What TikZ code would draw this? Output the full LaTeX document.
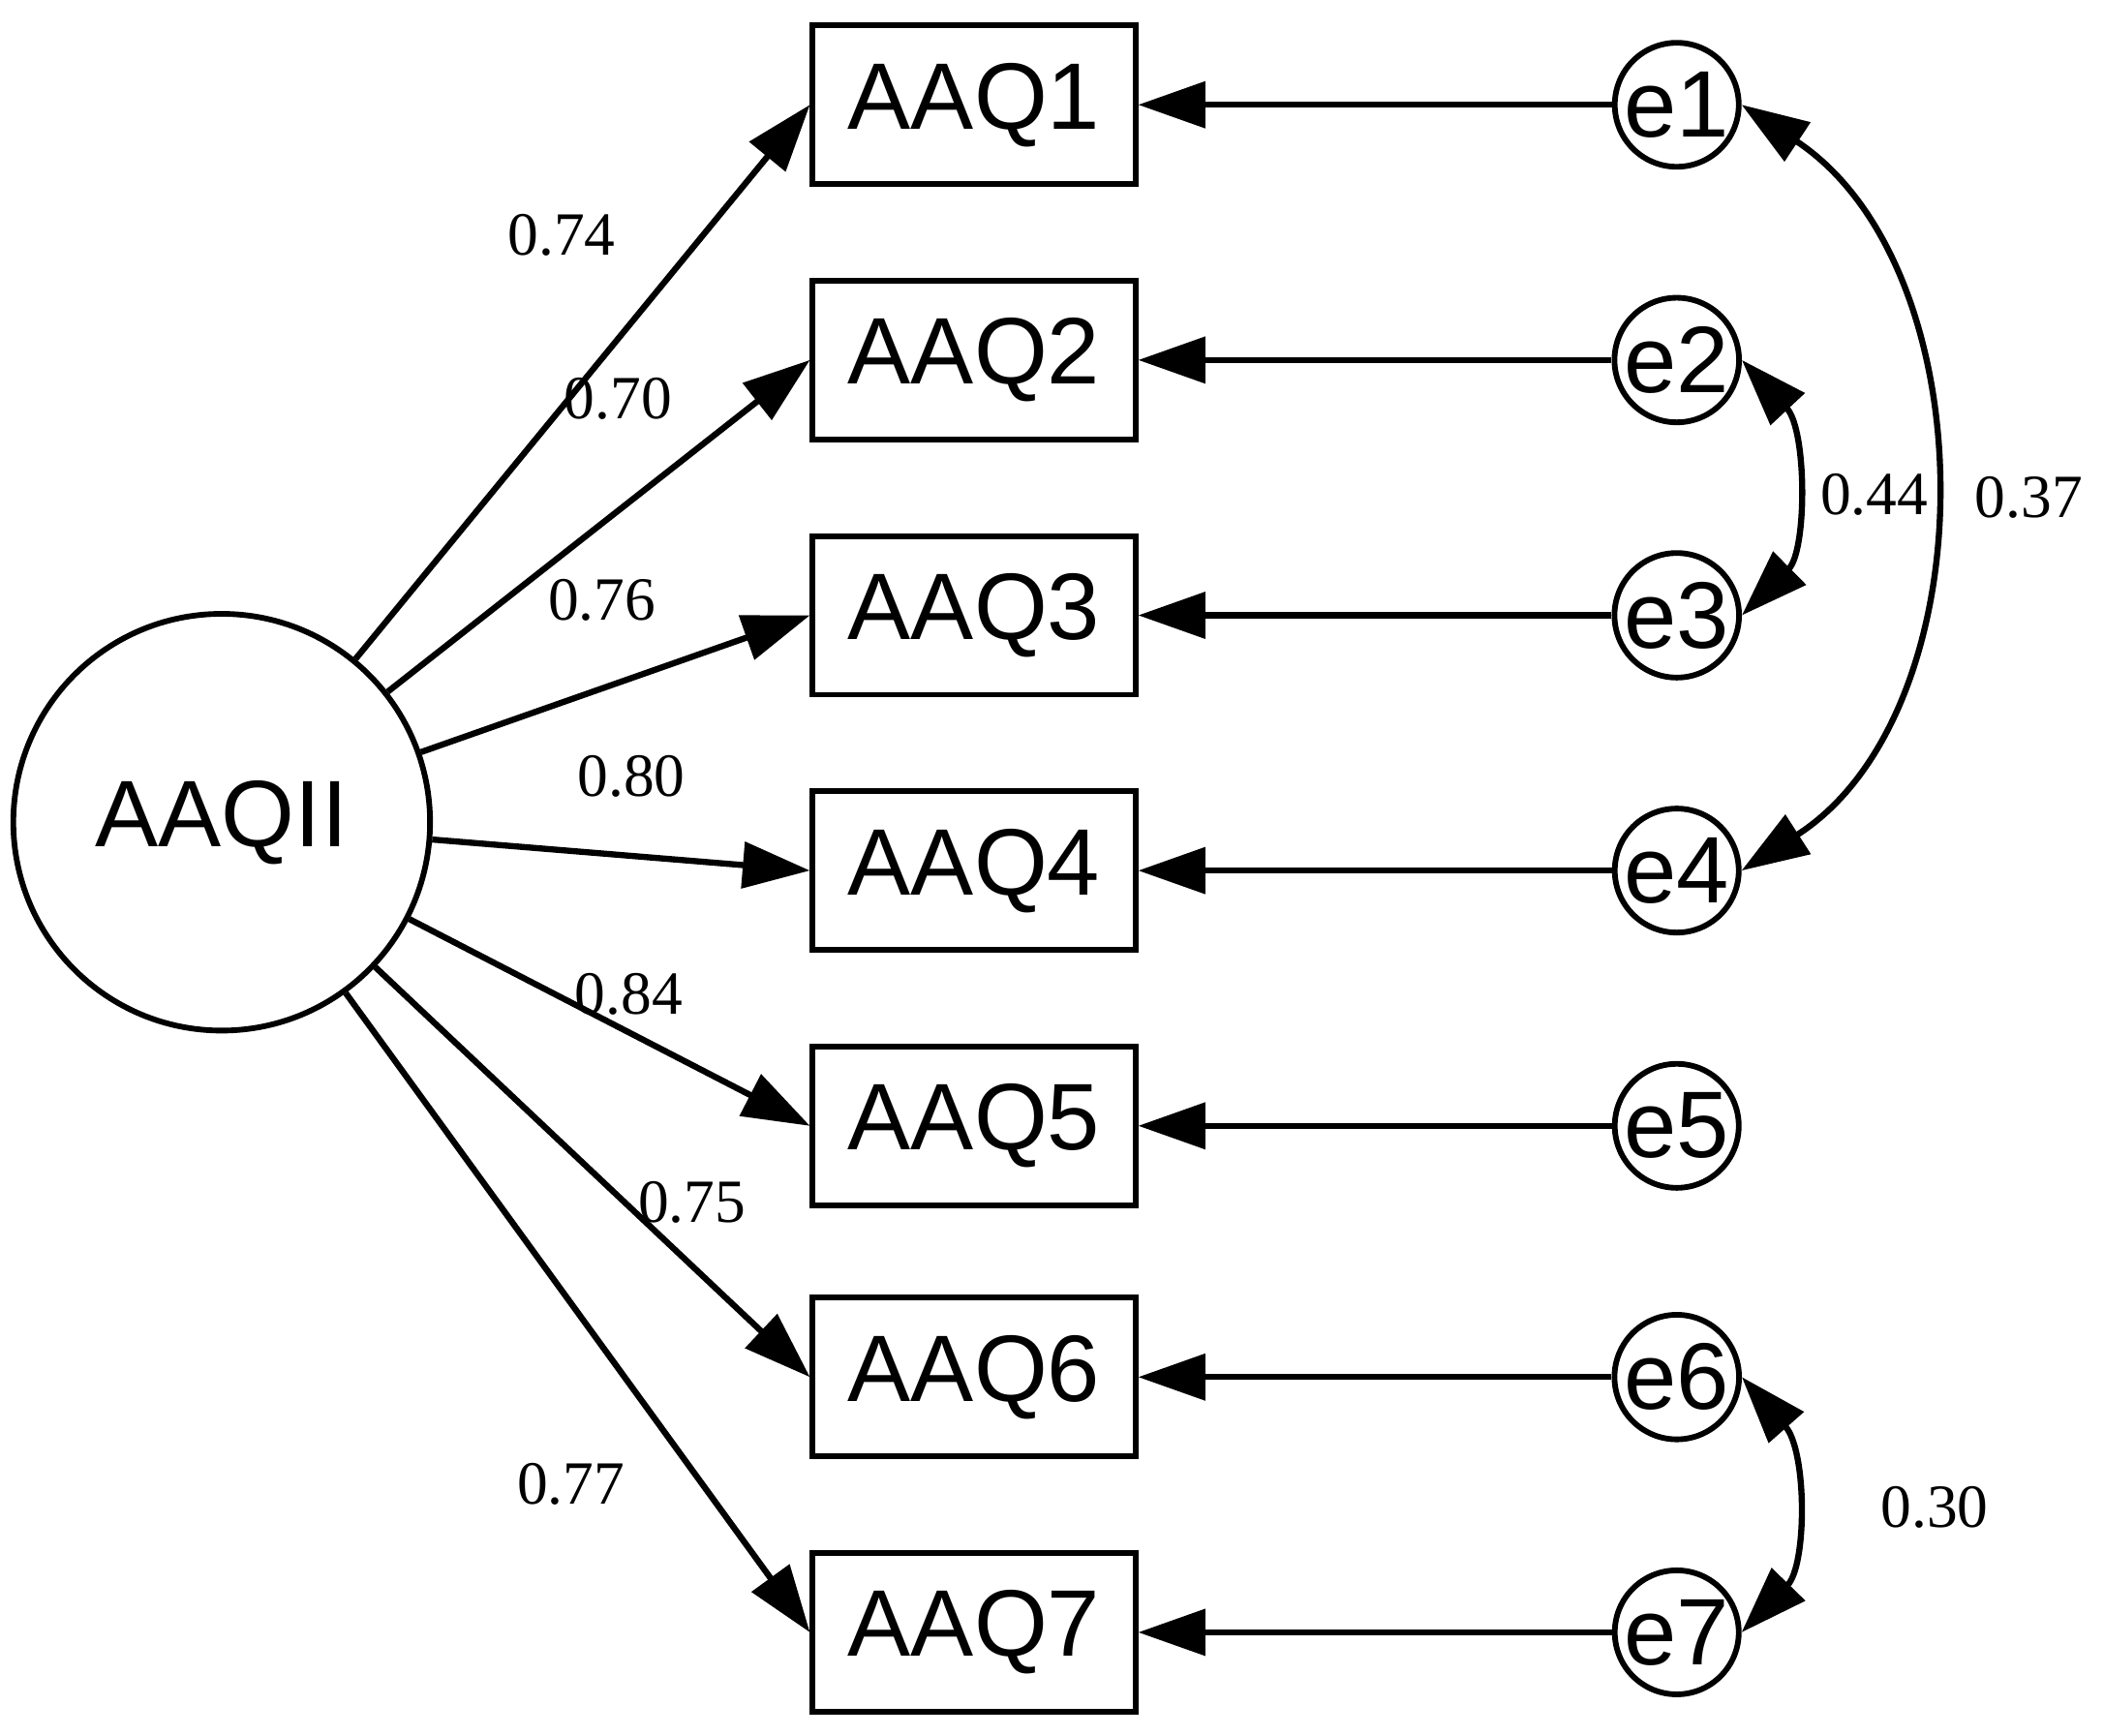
\documentclass[tikz,border=0pt]{standalone}
\usepackage{fontspec}
\setmainfont{Liberation Serif}
\setsansfont{Liberation Sans}
\usetikzlibrary{arrows.meta}
\begin{document}
\begin{tikzpicture}[x=0.01cm,y=-0.01cm,
  obs/.style={draw,line width=1.2pt,minimum width=2.4cm,minimum height=1.18cm,font=\sffamily\fontsize{20}{20}\selectfont,inner sep=0pt},
  err/.style={draw,circle,line width=1.2pt,minimum size=0.9cm,font=\sffamily\fontsize{20}{20}\selectfont,inner sep=0pt},
  lat/.style={draw,circle,line width=1.2pt,minimum size=3.1cm,font=\sffamily\fontsize{20}{20}\selectfont},
  arr/.style={line width=1.3pt,-{Triangle[length=0.5cm,width=0.34cm]}},
  cov/.style={line width=1.3pt,{Triangle[length=0.5cm,width=0.34cm]}-{Triangle[length=0.5cm,width=0.34cm]}},
  lab/.style={font=\fontsize{13}{13}\selectfont}]
\useasboundingbox (0,0) rectangle (1566,1292);
\node[lat] (L) at (165,612) {AAQII};
\foreach \i/\y in {1/78,2/268,3/458,4/648,5/838,6/1025,7/1215}{
  \node[obs] (b\i) at (725,\y) {AAQ\i};
  \node[err] (e\i) at (1248,\y) {e\i};
  \draw[arr] (e\i) -- (b\i);
  \draw[arr] (L) -- (b\i.west);
}
\node[lab] at (418,175) {0.74};
\node[lab] at (460,297) {0.70};
\node[lab] at (448,447) {0.76};
\node[lab] at (470,578) {0.80};
\node[lab] at (468,740) {0.84};
\node[lab] at (515,895) {0.75};
\node[lab] at (425,1105) {0.77};
\draw[cov] (e1.east) .. controls (1480,200) and (1480,530) .. (e4.east);
\draw[cov] (e2.east) .. controls (1345,320) and (1345,410) .. (e3.east);
\draw[cov] (e6.east) .. controls (1345,1080) and (1345,1165) .. (e7.east);
\node[lab] at (1395,368) {0.44};
\node[lab] at (1510,370) {0.37};
\node[lab] at (1440,1122) {0.30};
\end{tikzpicture}
\end{document}
